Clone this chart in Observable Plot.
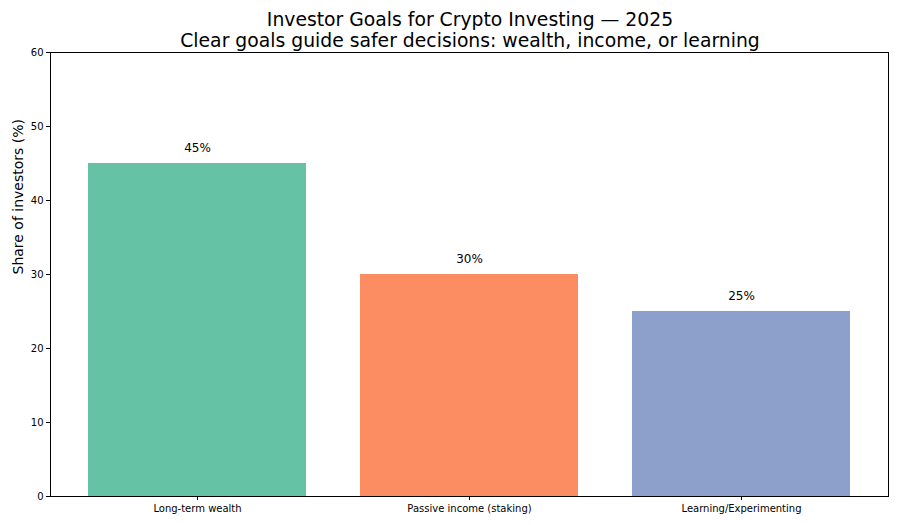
<!DOCTYPE html>
<html><head><meta charset="utf-8">
<script src="https://cdn.jsdelivr.net/npm/d3@7"></script>
<script src="https://cdn.jsdelivr.net/npm/@observablehq/plot@0.6"></script>
<style>
body{margin:0;background:#fff;font-family:"DejaVu Sans",sans-serif;}
#title{width:900px;height:44px;text-align:center;padding-left:40px;box-sizing:border-box;font-size:18.8px;line-height:21px;color:#000;padding-top:9px;white-space:nowrap}
</style></head><body>
<div id="title">Investor Goals for Crypto Investing — 2025<br>Clear goals guide safer decisions: wealth, income, or learning</div>
<div id="chart"></div>
<script>
const categories = ["Long-term wealth", "Passive income (staking)", "Learning/Experimenting"];
const shares = [45, 30, 25];
const colors = ["#66c2a5", "#fc8d62", "#8da0cb"];
const yTicks = [0, 10, 20, 30, 40, 50, 60];

const data = categories.map((c, i) => ({cat: c, v: shares[i], col: colors[i]}));

const plot = Plot.plot({
  width: 900, height: 481,
  marginTop: 8, marginBottom: 29, marginLeft: 50, marginRight: 12,
  style: {fontFamily: "DejaVu Sans", fontSize: "10px", color: "#000", background: "#fff"},
  x: {domain: categories, paddingInner: 0.2, paddingOuter: 0.14, label: null, tickSize: 4},
  y: {domain: [0, 60], ticks: yTicks, label: null, tickSize: 4},
  marks: [
    Plot.barY(data, {x: "cat", y: "v", fill: "col"}),
    Plot.text(data, {x: "cat", y: "v", text: d => d.v + "%", dy: -15, fontSize: 12, fill: "#000"}),
    Plot.frame({stroke: "#000", strokeWidth: 1}),
    Plot.axisY({ticks: yTicks, tickSize: 4, tickPadding: 3, fontSize: 10, label: null}),
    Plot.axisX({tickSize: 4, tickPadding: 4, fontSize: 10, label: null}),
    Plot.text(["Share of investors (%)"], {frameAnchor: "left", dx: -32, rotate: -90, fontSize: 14, fill: "#000"})
  ]
});
document.getElementById("chart").appendChild(plot);
</script>
</body></html>
